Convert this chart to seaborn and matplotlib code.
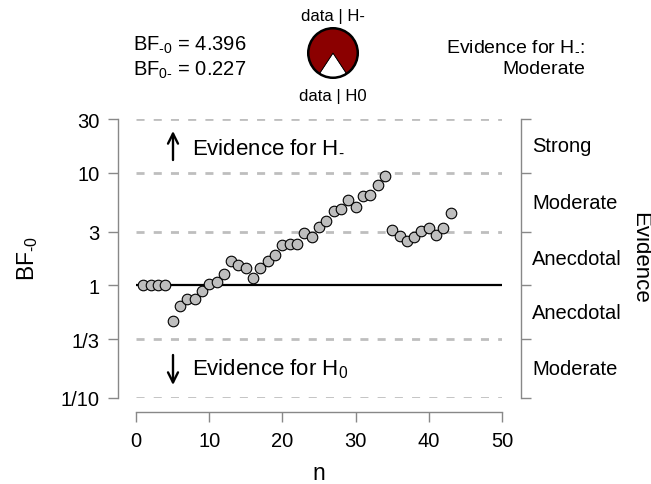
import matplotlib
matplotlib.use("Agg")
import matplotlib.pyplot as plt
import seaborn as sns
import numpy as np
import pandas as pd

# ---- data ----
n_values = list(range(1, 44))
bf_values = [1.0, 1.0, 1.0, 1.0, 0.48, 0.65, 0.76, 0.76, 0.90, 1.03,
             1.07, 1.26, 1.66, 1.53, 1.44, 1.17, 1.43, 1.66, 1.86, 2.26,
             2.34, 2.34, 2.93, 2.70, 3.33, 3.71, 4.59, 4.78, 5.67, 4.94,
             6.23, 6.28, 7.75, 9.44, 3.09, 2.76, 2.50, 2.68, 3.07, 3.22,
             2.79, 3.22, 4.40]
y_ticks = [0.1, 1/3, 1, 3, 10, 30]
y_ticklabels = ["1/10", "1/3", "1", "3", "10", "30"]
x_ticks = [0, 10, 20, 30, 40, 50]
evidence_labels = ["Moderate", "Anecdotal", "Anecdotal", "Moderate", "Strong"]
bf_minus0 = 4.396
bf_0minus = 0.227

df = pd.DataFrame({"n": n_values, "BF": bf_values})

sns.set_theme(style="white")
plt.rcParams["font.family"] = ["Liberation Sans", "DejaVu Sans"]
plt.rcParams["mathtext.fontset"] = "custom"
plt.rcParams["mathtext.rm"] = "Liberation Sans"
plt.rcParams["mathtext.it"] = "Liberation Sans"
plt.rcParams["mathtext.bf"] = "Liberation Sans"
plt.rcParams["mathtext.sf"] = "Liberation Sans"
plt.rcParams["text.color"] = "black"
plt.rcParams["axes.labelcolor"] = "black"
plt.rcParams["xtick.color"] = "black"
plt.rcParams["ytick.color"] = "black"

HY = "\u2010"  # short hyphen for subscripts

W, H = 651, 485
fig = plt.figure(figsize=(W / 100, H / 100), dpi=100)
ax = fig.add_axes([136 / W, (H - 399) / H, 366 / W, 279 / H])

# dashed reference lines
for yv in y_ticks:
    if yv == 1:
        continue
    ax.axhline(yv, color="#BEBEBE", lw=2.0, ls=(0, (2.9, 3.3)), zorder=1)
ax.axhline(1, color="black", lw=1.6, zorder=2)

sns.scatterplot(data=df, x="n", y="BF", ax=ax, color="#BEBEBE",
                edgecolor="black", linewidth=0.8, s=58, zorder=3, legend=False)

ax.set_yscale("log")
ax.set_xlim(0, 50)
ax.set_ylim(0.1, 30)
ax.set_yticks(y_ticks)
ax.set_yticklabels(y_ticklabels)
ax.yaxis.set_minor_locator(matplotlib.ticker.NullLocator())
ax.set_xticks(x_ticks)
ax.set_xticklabels([str(v) for v in x_ticks])
ax.set_xlabel("")
ax.set_ylabel("")

ax.spines["top"].set_visible(False)
spc = "#888888"
ax.spines["left"].set_position(("outward", 13))
ax.spines["bottom"].set_position(("outward", 10))
ax.spines["right"].set_position(("outward", 14))
for s in ["left", "bottom", "right"]:
    ax.spines[s].set_color(spc)
    ax.spines[s].set_linewidth(1.0)
ax.tick_params(axis="y", which="major", left=True, right=True, labelright=False,
               direction="out", length=7, width=1.0, color=spc, pad=6,
               labelsize=14.5, labelcolor="black")
ax.tick_params(axis="x", which="major", bottom=True, direction="out", length=7,
               width=1.0, color=spc, pad=7, labelsize=14.5, labelcolor="black")

# right-side evidence labels
bounds = y_ticks
for i, lab in enumerate(evidence_labels):
    ymid = np.sqrt(bounds[i] * bounds[i + 1])
    ax.text(1.0 + (532 - 502) / 366, ymid, lab, transform=ax.get_yaxis_transform(),
            ha="left", va="center", fontsize=14.5, color="black")

fig.text(640 / W, 1 - 258 / H, "Evidence", rotation=-90, ha="center", va="center",
         fontsize=16)
fig.text(28 / W, 1 - 258 / H, r"BF$_{%s0}$" % HY, rotation=90, ha="center",
         va="center", fontsize=16.5)
fig.text(319 / W, 1 - 474 / H, "n", ha="center", va="center", fontsize=16.5)

# arrows inside plot
arrow_kw = dict(arrowstyle="->", lw=1.7, color="black", mutation_scale=18,
                shrinkA=0, shrinkB=0)
ax.annotate("", xy=(173 / W, 1 - 132 / H), xytext=(173 / W, 1 - 161 / H),
            xycoords="figure fraction", textcoords="figure fraction",
            arrowprops=arrow_kw)
ax.annotate("", xy=(173 / W, 1 - 386 / H), xytext=(173 / W, 1 - 356 / H),
            xycoords="figure fraction", textcoords="figure fraction",
            arrowprops=arrow_kw)
fig.text(192 / W, 1 - 146 / H, r"Evidence for H$_{%s}$" % HY, ha="left",
         va="center", fontsize=16)
fig.text(192 / W, 1 - 369 / H, r"Evidence for H$_{0}$", ha="left", va="center",
         fontsize=16)

# top texts
fig.text(133 / W, 1 - 45 / H, r"BF$_{%s0}$ = %.3f" % (HY, bf_minus0), ha="left",
         va="center", fontsize=14.5)
fig.text(133 / W, 1 - 70 / H, r"BF$_{0%s}$ = %.3f" % (HY, bf_0minus), ha="left",
         va="center", fontsize=14.5)
fig.text(585 / W, 1 - 45 / H, r"Evidence for H$_{%s}$:" % HY, ha="right",
         va="center", fontsize=14)
fig.text(585 / W, 1 - 70 / H, "Moderate", ha="right", va="center", fontsize=14)

fig.text(333 / W, 1 - 17 / H, "data | H-", ha="center", va="center", fontsize=12)
fig.text(333 / W, 1 - 97 / H, "data | H0", ha="center", va="center", fontsize=12)

# pie
r = 26
pax = fig.add_axes([(333 - r) / W, (H - 54 - r) / H, 2 * r / W, 2 * r / H])
p0 = 1 / (1 + bf_minus0)
ang = p0 * 360
pax.pie([p0, 1 - p0], colors=["white", "#8B0000"], startangle=270 - ang / 2,
        counterclock=True, wedgeprops=dict(edgecolor="black", linewidth=0.6))
circ = plt.Circle((0, 0), 1, fill=False, edgecolor="black", lw=1.8)
pax.add_patch(circ)
pax.set_xlim(-1.05, 1.05)
pax.set_ylim(-1.05, 1.05)
pax.set_aspect("equal")
pax.axis("off")

fig.savefig("out.png", dpi=100)
